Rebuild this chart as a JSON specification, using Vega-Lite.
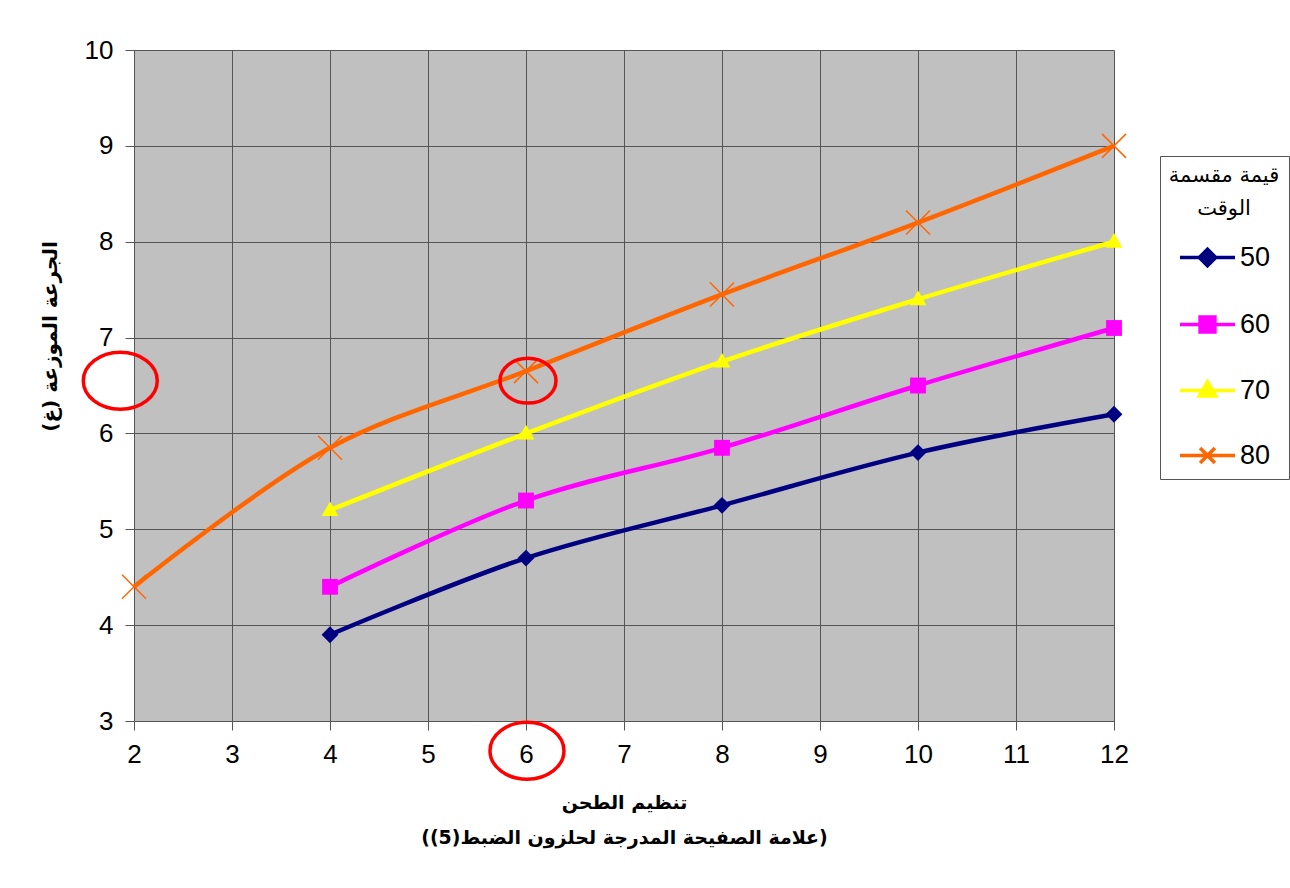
{
  "$schema": "https://vega.github.io/schema/vega-lite/v6.json",
  "width": 980,
  "height": 671,
  "autosize": "none",
  "padding": {"left": 134, "top": 50, "right": 176, "bottom": 167},
  "background": "white",
  "config": {
    "font": "Liberation Sans",
    "view": {"fill": "#C0C0C0", "stroke": null},
    "axis": {
      "grid": true,
      "gridColor": "#555555",
      "gridWidth": 1,
      "domainColor": "#555555",
      "tickColor": "#555555",
      "tickSize": 9,
      "labelFontSize": 26,
      "labelColor": "black",
      "labelFont": "Liberation Sans",
      "labelFlush": false,
      "titleFont": "DejaVu Sans",
      "titleFontSize": 19,
      "titleFontWeight": "bold",
      "titleColor": "black"
    }
  },
  "datasets": {
    "series": [
      {"grind": 4, "dose": 3.9, "series": "50"},
      {"grind": 6, "dose": 4.7, "series": "50"},
      {"grind": 8, "dose": 5.25, "series": "50"},
      {"grind": 10, "dose": 5.8, "series": "50"},
      {"grind": 12, "dose": 6.2, "series": "50"},
      {"grind": 4, "dose": 4.4, "series": "60"},
      {"grind": 6, "dose": 5.3, "series": "60"},
      {"grind": 8, "dose": 5.85, "series": "60"},
      {"grind": 10, "dose": 6.5, "series": "60"},
      {"grind": 12, "dose": 7.1, "series": "60"},
      {"grind": 4, "dose": 5.2, "series": "70"},
      {"grind": 6, "dose": 6.0, "series": "70"},
      {"grind": 8, "dose": 6.75, "series": "70"},
      {"grind": 10, "dose": 7.4, "series": "70"},
      {"grind": 12, "dose": 8.0, "series": "70"},
      {"grind": 2, "dose": 4.4, "series": "80"},
      {"grind": 4, "dose": 5.85, "series": "80"},
      {"grind": 6, "dose": 6.65, "series": "80"},
      {"grind": 8, "dose": 7.45, "series": "80"},
      {"grind": 10, "dose": 8.2, "series": "80"},
      {"grind": 12, "dose": 9.0, "series": "80"}
    ],
    "marks": [
      {"grind": 6.02, "dose": 6.55, "target": "point"},
      {"grind": 6.01, "dose": 2.69, "target": "xlabel"},
      {"grind": 1.86, "dose": 6.55, "target": "ylabel"}
    ]
  },
  "layer": [
    {
      "data": {"name": "series"},
      "mark": {"type": "line", "interpolate": "catmull-rom", "strokeWidth": 4.5},
      "encoding": {
        "x": {
          "field": "grind", "type": "quantitative",
          "scale": {"domain": [2, 12], "nice": false, "zero": false},
          "axis": {
            "values": [2, 3, 4, 5, 6, 7, 8, 9, 10, 11, 12],
            "format": "d",
            "labelPadding": 11,
            "title": ["تنظيم الطحن", "(علامة الصفيحة المدرجة لحلزون الضبط(5))"],
            "titlePadding": 26,
            "titleLineHeight": 35
          }
        },
        "y": {
          "field": "dose", "type": "quantitative",
          "scale": {"domain": [3, 10], "nice": false, "zero": false},
          "axis": {
            "values": [3, 4, 5, 6, 7, 8, 9, 10],
            "format": "d",
            "labelPadding": 12,
            "title": "الجرعة الموزعة (غ)",
            "titleFontSize": 20,
            "titleX": -84,
            "titleY": 286,
            "titleAngle": -90,
            "titleAlign": "center",
            "titleBaseline": "middle"
          }
        },
        "color": {
          "field": "series", "type": "nominal",
          "scale": {"domain": ["50", "60", "70", "80"], "range": ["#000080", "#FF00FF", "#FFFF00", "#FF6600"]},
          "legend": {
            "orient": "none",
            "legendX": 1026,
            "legendY": 106,
            "title": ["قيمة مقسمة", "الوقت"],
            "titleFont": "DejaVu Sans",
            "titleFontSize": 21,
            "titleFontWeight": "normal",
            "titleColor": "black",
            "titleAlign": "center",
            "titleAnchor": "middle",
            "titleLineHeight": 33,
            "titlePadding": 9,
            "labelFontSize": 27,
            "labelColor": "black",
            "labelFont": "Liberation Sans",
            "symbolSize": 3025,
            "symbolOffset": 0,
            "labelOffset": 3,
            "rowPadding": 22,
            "padding": 9,
            "symbolStrokeWidth": 3.5,
            "symbolOpacity": 1,
            "strokeColor": "#555555",
            "fillColor": "white",
            "encode": {
              "symbols": {
                "update": {
                  "shape": {"signal": "datum.value==='50'?'M-1,0L1,0M0,-0.3L0.3,0L0,0.3L-0.3,0Z':datum.value==='60'?'M-1,0L1,0M-0.27,-0.27H0.27V0.27H-0.27Z':datum.value==='70'?'M-1,0L1,0M0,-0.32L0.3,0.2L-0.3,0.2Z':'M-1,0L1,0M-0.27,-0.27L0.27,0.27M-0.27,0.27L0.27,-0.27'"},
                  "fill": {"signal": "scale('color', datum.value)"},
                  "stroke": {"signal": "scale('color', datum.value)"},
                  "strokeWidth": {"value": 3.5},
                  "size": {"value": 3025},
                  "opacity": {"value": 1}
                }
              }
            }
          }
        }
      }
    },
    {
      "data": {"name": "series"},
      "transform": [{"filter": "datum.series === '50'"}],
      "mark": {"type": "point", "filled": true, "size": 576, "strokeWidth": 1.5, "opacity": 1, "shape": "M0,-0.7L0.7,0L0,0.7L-0.7,0Z"},
      "encoding": {
        "x": {"field": "grind", "type": "quantitative"},
        "y": {"field": "dose", "type": "quantitative"},
        "color": {"field": "series", "type": "nominal"}
      }
    },
    {
      "data": {"name": "series"},
      "transform": [{"filter": "datum.series === '60'"}],
      "mark": {"type": "point", "filled": true, "size": 576, "strokeWidth": 1.5, "opacity": 1, "shape": "M-0.66,-0.66H0.66V0.66H-0.66Z"},
      "encoding": {
        "x": {"field": "grind", "type": "quantitative"},
        "y": {"field": "dose", "type": "quantitative"},
        "color": {"field": "series", "type": "nominal"}
      }
    },
    {
      "data": {"name": "series"},
      "transform": [{"filter": "datum.series === '70'"}],
      "mark": {"type": "point", "filled": true, "size": 576, "strokeWidth": 1.5, "opacity": 1, "shape": "M0,-0.72L0.7,0.5L-0.7,0.5Z"},
      "encoding": {
        "x": {"field": "grind", "type": "quantitative"},
        "y": {"field": "dose", "type": "quantitative"},
        "color": {"field": "series", "type": "nominal"}
      }
    },
    {
      "data": {"name": "series"},
      "transform": [{"filter": "datum.series === '80'"}],
      "mark": {"type": "point", "filled": false, "size": 576, "strokeWidth": 1.5, "opacity": 1, "shape": "M-1,-1L1,1M-1,1L1,-1"},
      "encoding": {
        "x": {"field": "grind", "type": "quantitative"},
        "y": {"field": "dose", "type": "quantitative"},
        "color": {"field": "series", "type": "nominal"}
      }
    },
    {
      "data": {"name": "marks"},
      "transform": [{"filter": "datum.target === 'point'"}],
      "mark": {"type": "point", "filled": false, "clip": false, "size": 3136, "stroke": "#FF0000", "strokeWidth": 3.5, "opacity": 1, "shape": "M-1,0A1,0.8,0,1,0,1,0A1,0.8,0,1,0,-1,0Z"},
      "encoding": {
        "x": {"field": "grind", "type": "quantitative"},
        "y": {"field": "dose", "type": "quantitative"}
      }
    },
    {
      "data": {"name": "marks"},
      "transform": [{"filter": "datum.target !== 'point'"}],
      "mark": {"type": "point", "filled": false, "clip": false, "size": 5476, "stroke": "#FF0000", "strokeWidth": 3.5, "opacity": 1, "shape": "M-1,0A1,0.77,0,1,0,1,0A1,0.77,0,1,0,-1,0Z"},
      "encoding": {
        "x": {"field": "grind", "type": "quantitative"},
        "y": {"field": "dose", "type": "quantitative"}
      }
    }
  ]
}
